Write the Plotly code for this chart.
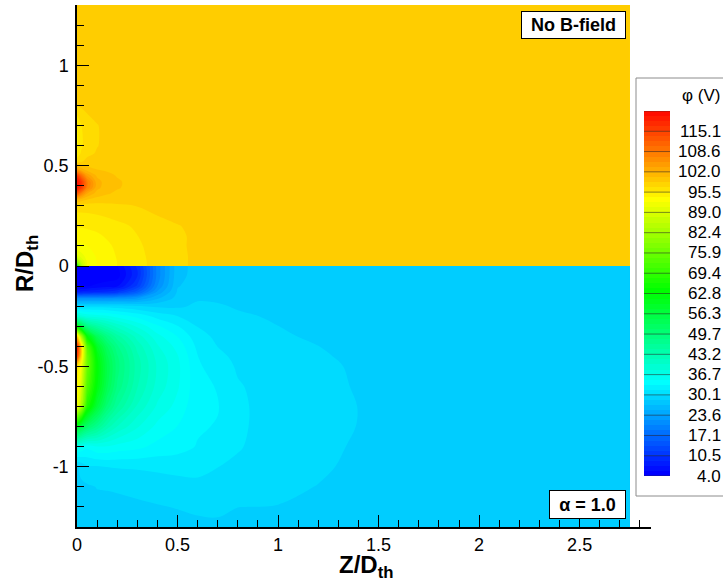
import numpy as np
import plotly.graph_objects as go

# ---------------------------------------------------------------------------
# Potential phi (V) sampled in the (Z, R) plane, lengths scaled by D_th.
# Upper half (R >= 0): no magnetic field. Lower half (R <= 0): alpha = 1.0.
# ---------------------------------------------------------------------------
Z_UPPER = [0.0, 0.02, 0.05, 0.1, 0.15, 0.2, 0.3, 0.4, 0.5, 0.6, 0.8, 2.75]
R_UPPER = [0.0, 0.02, 0.05, 0.1, 0.15, 0.2, 0.25, 0.3, 0.33, 0.36, 0.39, 0.42,
           0.45, 0.48, 0.52, 0.56, 0.6, 0.7, 0.8, 0.9, 1.0, 1.3]
# rows follow R_UPPER, columns follow Z_UPPER
PHI_UPPER = [
    [62.0, 84.0, 92.2, 93.9, 94.8, 95.5, 96.7, 97.6, 98.55, 98.95, 99.3, 99.6],
    [80.0, 88.0, 92.4, 93.95, 94.8, 95.5, 96.7, 97.6, 98.55, 98.95, 99.3, 99.6],
    [90.0, 91.5, 92.8, 94.1, 94.9, 95.6, 96.75, 97.65, 98.55, 98.95, 99.3, 99.6],
    [93.4, 93.5, 93.8, 94.5, 95.2, 95.8, 96.9, 97.7, 98.6, 98.95, 99.3, 99.6],
    [94.6, 94.6, 94.8, 95.2, 95.7, 96.2, 97.1, 97.9, 98.6, 98.95, 99.35, 99.6],
    [95.7, 95.7, 95.8, 96.0, 96.3, 96.7, 97.4, 98.15, 98.7, 99.05, 99.4, 99.6],
    [96.7, 96.7, 96.8, 97.0, 97.3, 97.6, 98.2, 98.75, 99.05, 99.25, 99.45, 99.6],
    [98.0, 98.0, 98.0, 98.1, 98.3, 98.45, 98.8, 99.0, 99.2, 99.35, 99.5, 99.6],
    [102.0, 101.2, 100.3, 99.7, 99.5, 99.5, 99.5, 99.55, 99.6, 99.6, 99.6, 99.6],
    [113.0, 108.0, 103.5, 101.2, 100.5, 100.15, 99.8, 99.7, 99.6, 99.6, 99.6, 99.6],
    [121.0, 117.0, 108.5, 102.5, 101.1, 100.5, 99.9, 99.7, 99.6, 99.6, 99.6, 99.6],
    [121.5, 117.5, 109.0, 102.7, 101.2, 100.55, 99.9, 99.7, 99.6, 99.6, 99.6, 99.6],
    [117.0, 111.0, 105.0, 101.7, 100.8, 100.3, 99.8, 99.7, 99.6, 99.6, 99.6, 99.6],
    [105.0, 103.0, 101.3, 100.4, 100.15, 99.95, 99.7, 99.6, 99.6, 99.6, 99.6, 99.6],
    [98.0, 98.6, 99.2, 99.5, 99.6, 99.6, 99.6, 99.6, 99.6, 99.6, 99.6, 99.6],
    [96.0, 97.3, 98.4, 98.9, 99.2, 99.4, 99.55, 99.6, 99.6, 99.6, 99.6, 99.6],
    [95.2, 96.8, 98.0, 98.7, 99.1, 99.35, 99.5, 99.6, 99.6, 99.6, 99.6, 99.6],
    [95.4, 97.0, 98.1, 98.7, 99.1, 99.35, 99.5, 99.6, 99.6, 99.6, 99.6, 99.6],
    [98.8, 99.0, 99.2, 99.35, 99.45, 99.5, 99.6, 99.6, 99.6, 99.6, 99.6, 99.6],
    [99.2, 99.3, 99.4, 99.5, 99.55, 99.6, 99.6, 99.6, 99.6, 99.6, 99.6, 99.6],
    [99.5, 99.5, 99.55, 99.6, 99.6, 99.6, 99.6, 99.6, 99.6, 99.6, 99.6, 99.6],
    [99.6, 99.6, 99.6, 99.6, 99.6, 99.6, 99.6, 99.6, 99.6, 99.6, 99.6, 99.6],
]

Z_LOWER = [0.0, 0.02, 0.05, 0.1, 0.15, 0.2, 0.3, 0.4, 0.5, 0.6, 0.7, 0.8,
           1.0, 1.2, 1.4, 1.6, 2.0, 2.75]
R_LOWER = [0.0, -0.02, -0.05, -0.1, -0.13, -0.16, -0.2, -0.25, -0.3, -0.35,
           -0.4, -0.45, -0.5, -0.6, -0.7, -0.8, -0.9, -1.0, -1.1, -1.2, -1.3]
# one column per Z_LOWER entry, values ordered like R_LOWER
PHI_LOWER_COLS = [
    [5.0, 4.5, 4.2, 5.0, 9.0, 22.0, 31.0, 40.0, 62.0, 100.0, 120.0, 117.0, 98.0, 95.0, 93.0, 60.0, 37.0, 30.0, 29.8, 29.5, 29.3],
    [5.0, 4.5, 4.2, 5.2, 9.5, 22.0, 31.0, 39.0, 56.0, 84.0, 99.0, 99.0, 93.0, 90.0, 85.0, 56.0, 36.5, 30.5, 29.9, 29.5, 29.3],
    [5.0, 4.5, 4.3, 5.5, 10.0, 22.0, 31.0, 38.0, 49.0, 64.0, 74.0, 77.0, 77.0, 74.0, 68.0, 52.0, 35.5, 31.5, 29.9, 29.6, 29.3],
    [5.1, 4.6, 4.4, 6.0, 10.5, 22.0, 31.0, 37.5, 45.5, 54.0, 60.0, 63.0, 64.0, 63.0, 58.0, 48.0, 36.5, 31.6, 30.2, 29.7, 29.35],
    [5.3, 4.8, 4.6, 6.5, 11.0, 22.0, 31.0, 37.0, 43.0, 49.0, 53.0, 55.0, 56.0, 55.0, 51.0, 44.0, 36.5, 31.8, 30.25, 29.7, 29.35],
    [5.6, 5.1, 4.9, 7.0, 12.0, 22.5, 30.8, 36.0, 41.0, 45.5, 48.5, 50.0, 50.5, 49.5, 46.5, 41.5, 36.0, 31.9, 30.3, 29.8, 29.4],
    [11.0, 10.5, 10.5, 12.5, 16.5, 23.5, 30.3, 34.5, 38.0, 40.8, 42.6, 43.6, 44.0, 43.3, 41.3, 38.5, 35.5, 32.0, 30.5, 29.9, 29.5],
    [21.0, 21.0, 21.0, 22.0, 24.0, 26.5, 29.8, 32.8, 35.3, 37.2, 38.5, 39.3, 39.7, 39.3, 38.0, 36.2, 34.5, 32.2, 30.7, 30.05, 29.6],
    [28.0, 28.0, 28.1, 28.4, 28.7, 29.1, 29.8, 31.8, 33.5, 35.0, 36.1, 36.8, 37.1, 36.9, 36.1, 35.0, 34.0, 32.4, 31.0, 30.2, 29.7],
    [29.0, 29.0, 29.0, 29.2, 29.5, 29.9, 30.5, 31.1, 31.7, 32.4, 33.0, 33.45, 33.7, 33.9, 33.8, 33.6, 33.3, 32.2, 31.4, 30.4, 29.8],
    [29.1, 29.1, 29.1, 29.4, 29.6, 29.9, 30.3, 30.8, 31.2, 31.4, 31.75, 32.1, 32.5, 33.3, 33.5, 33.3, 32.6, 31.8, 31.0, 30.4, 29.9],
    [29.2, 29.2, 29.2, 29.4, 29.55, 29.75, 30.0, 30.35, 30.65, 30.95, 31.2, 31.45, 31.6, 31.9, 32.0, 32.0, 31.9, 31.5, 30.7, 30.15, 29.8],
    [29.3, 29.3, 29.3, 29.4, 29.5, 29.6, 29.75, 29.95, 30.15, 30.35, 30.55, 30.75, 30.9, 31.1, 31.2, 31.15, 31.0, 30.75, 30.45, 30.1, 29.85],
    [29.3, 29.3, 29.3, 29.35, 29.4, 29.45, 29.5, 29.6, 29.75, 29.9, 30.15, 30.3, 30.45, 30.65, 30.75, 30.7, 30.55, 30.35, 30.1, 29.85, 29.6],
    [29.3, 29.3, 29.3, 29.3, 29.3, 29.35, 29.4, 29.45, 29.5, 29.6, 29.75, 29.85, 29.95, 30.0, 30.12, 30.1, 29.95, 29.85, 29.7, 29.55, 29.45],
    [29.3, 29.3, 29.3, 29.3, 29.3, 29.3, 29.35, 29.4, 29.45, 29.5, 29.55, 29.6, 29.65, 29.7, 29.75, 29.7, 29.65, 29.6, 29.5, 29.45, 29.4],
    [29.3, 29.3, 29.3, 29.3, 29.3, 29.3, 29.3, 29.3, 29.35, 29.35, 29.4, 29.4, 29.4, 29.45, 29.45, 29.45, 29.4, 29.4, 29.35, 29.35, 29.3],
    [29.3, 29.3, 29.3, 29.3, 29.3, 29.3, 29.3, 29.3, 29.3, 29.3, 29.3, 29.3, 29.3, 29.3, 29.3, 29.3, 29.3, 29.3, 29.3, 29.3, 29.3],
]

# flood levels: 72 bands of equal width starting at 4.0 V
PHI_MIN = 4.0
PHI_STEP = 1.63375
N_BANDS = 72
LABEL_EVERY = 4

CBAR_LABELS = ["4.0", "10.5", "17.1", "23.6", "30.1", "36.7", "43.2", "49.7",
               "56.3", "62.8", "69.4", "75.9", "82.4", "89.0", "95.5", "102.0",
               "108.6", "115.1"]

X_TICKS = [0, 0.5, 1, 1.5, 2, 2.5]
X_TICKTEXT = ["0", "0.5", "1", "1.5", "2", "2.5"]
Y_TICKS = [-1, -0.5, 0, 0.5, 1]
Y_TICKTEXT = ["-1", "-0.5", "0", "0.5", "1"]
X_MINOR = [round(0.1 * i, 1) for i in range(29)]
Y_MINOR = [round(-1.3 + 0.1 * i, 1) for i in range(27)]

FONT = "Liberation Sans, Arial, Helvetica, sans-serif"
W, H = 723, 582


def rainbow(t):
    """Blue -> cyan -> green -> yellow -> red."""
    anchors = [(0.0, (0, 0, 255)), (0.25, (0, 255, 255)), (0.5, (0, 255, 0)),
               (0.75, (255, 255, 0)), (1.0, (255, 0, 0))]
    t = min(max(t, 0.0), 1.0)
    for (t0, c0), (t1, c1) in zip(anchors[:-1], anchors[1:]):
        if t <= t1:
            f = (t - t0) / (t1 - t0)
            rgb = [round(a + (b - a) * f) for a, b in zip(c0, c1)]
            return "rgb({},{},{})".format(*rgb)
    return "rgb(255,0,0)"


band_colors = [rainbow(k / N_BANDS) for k in range(N_BANDS + 1)]

# step colour scale: each band is painted with the colour of its lower level
nc = N_BANDS + 1
eps = 1e-5
contour_scale = [[0.0, band_colors[0]]]
for k in range(N_BANDS):
    contour_scale.append([(k + 1) / nc + eps, band_colors[k]])
    contour_scale.append([(k + 2) / nc - eps, band_colors[k]])
contour_scale.append([1.0, band_colors[N_BANDS]])

contour_levels = dict(start=PHI_MIN, end=PHI_MIN + (N_BANDS + 0.5) * PHI_STEP,
                      size=PHI_STEP, coloring="fill", showlines=False)

phi_lower = np.array(PHI_LOWER_COLS).T  # rows follow R_LOWER

fig = go.Figure()
fig.add_trace(go.Contour(
    x=Z_UPPER, y=R_UPPER, z=PHI_UPPER, autocontour=False,
    contours=contour_levels, line=dict(width=0, smoothing=1),
    colorscale=contour_scale, showscale=False, hoverinfo="skip",
))
fig.add_trace(go.Contour(
    x=Z_LOWER, y=R_LOWER[::-1], z=phi_lower[::-1].tolist(), autocontour=False,
    contours=contour_levels, line=dict(width=0, smoothing=1),
    colorscale=contour_scale, showscale=False, hoverinfo="skip",
))

# ---- colour legend bar, drawn on its own small axes ----
level_edges = [PHI_MIN + k * PHI_STEP for k in range(N_BANDS + 1)]
fig.add_trace(go.Heatmap(
    x=[0, 1], y=level_edges, z=[[k] for k in range(N_BANDS)],
    colorscale=[[k / (N_BANDS - 1), band_colors[k]] for k in range(N_BANDS)],
    zmin=0, zmax=N_BANDS - 1, showscale=False, hoverinfo="skip",
    xaxis="x2", yaxis="y2",
))
label_levels = level_edges[::LABEL_EVERY]
sep_x, sep_y = [], []
for v in label_levels:
    sep_x += [0, 1, None]
    sep_y += [v, v, None]
fig.add_trace(go.Scatter(
    x=sep_x, y=sep_y, mode="lines", line=dict(color="rgba(40,40,40,0.55)", width=1),
    hoverinfo="skip", xaxis="x2", yaxis="y2",
))

annotations = []
for v, txt in zip(label_levels, CBAR_LABELS):
    annotations.append(dict(
        x=1.0, xref="paper", y=v, yref="y2", xanchor="right", yanchor="middle",
        text=txt, showarrow=False, font=dict(family=FONT, size=17, color="black"),
    ))
annotations.append(dict(
    x=701 / W, y=1 - 96 / H, xref="paper", yref="paper", xanchor="center",
    yanchor="middle", text="\u03c6 (V)", showarrow=False,
    font=dict(family=FONT, size=17, color="black"),
))

# panel labels
annotations.append(dict(
    x=626 / W, y=1 - 11 / H, xref="paper", yref="paper", xanchor="right", yanchor="top",
    text="<b>No B-field</b>", showarrow=False, bgcolor="white", bordercolor="black",
    borderwidth=1, borderpad=1, width=101, height=24,
    font=dict(family=FONT, size=18, color="black"),
))
annotations.append(dict(
    x=626 / W, y=1 - 490 / H, xref="paper", yref="paper", xanchor="right", yanchor="top",
    text="<b>\u03b1 = 1.0</b>", showarrow=False, bgcolor="white", bordercolor="black",
    borderwidth=1, borderpad=1, width=73, height=25,
    font=dict(family=FONT, size=18, color="black"),
))

# axis titles
annotations.append(dict(
    x=366 / W, y=1 - 566 / H, xref="paper", yref="paper", xanchor="center",
    yanchor="middle", text="<b>Z/D<sub>th</sub></b>", showarrow=False,
    font=dict(family=FONT, size=24, color="black"),
))
annotations.append(dict(
    x=27 / W, y=1 - 264 / H, xref="paper", yref="paper", xanchor="center",
    yanchor="middle", text="<b>R/D<sub>th</sub></b>", showarrow=False, textangle=-90,
    font=dict(family=FONT, size=24, color="black"),
))

axis_common = dict(
    showline=True, linecolor="black", linewidth=1.5, mirror=False,
    ticks="inside", ticklen=12, tickwidth=1.3, tickcolor="black",
    showgrid=False, zeroline=False, tickmode="array",
    tickfont=dict(family=FONT, size=18, color="black"),
)

fig.update_layout(
    template="none",
    width=W, height=H,
    margin=dict(l=0, r=0, t=0, b=0),
    paper_bgcolor="white", plot_bgcolor="white",
    showlegend=False,
    xaxis=dict(
        domain=[77 / W, 651 / W], range=[0, 2.855], anchor="y",
        tickvals=X_TICKS, ticktext=X_TICKTEXT, ticklabelstandoff=1,
        minor=dict(ticks="inside", ticklen=7, tickwidth=1, tickcolor="black",
                   tickmode="array", tickvals=X_MINOR, showgrid=False),
        **axis_common,
    ),
    yaxis=dict(
        domain=[1 - 527 / H, 1 - 5 / H], range=[-1.3, 1.3], anchor="x",
        tickvals=Y_TICKS, ticktext=Y_TICKTEXT, ticklabelstandoff=3,
        minor=dict(ticks="inside", ticklen=7, tickwidth=1, tickcolor="black",
                   tickmode="array", tickvals=Y_MINOR, showgrid=False),
        **axis_common,
    ),
    xaxis2=dict(domain=[644 / W, 670 / W], range=[0, 1], anchor="y2",
                visible=False, fixedrange=True),
    yaxis2=dict(domain=[1 - 476 / H, 1 - 111 / H],
                range=[PHI_MIN, PHI_MIN + N_BANDS * PHI_STEP], anchor="x2",
                visible=False, fixedrange=True),
    shapes=[dict(
        type="rect", xref="paper", yref="paper", layer="below",
        x0=636 / W, x1=1.05, y0=1 - 496 / H, y1=1 - 78 / H,
        line=dict(color="#8c8c8c", width=1), fillcolor="white",
    )],
    annotations=annotations,
)

fig.write_html("out.html")
